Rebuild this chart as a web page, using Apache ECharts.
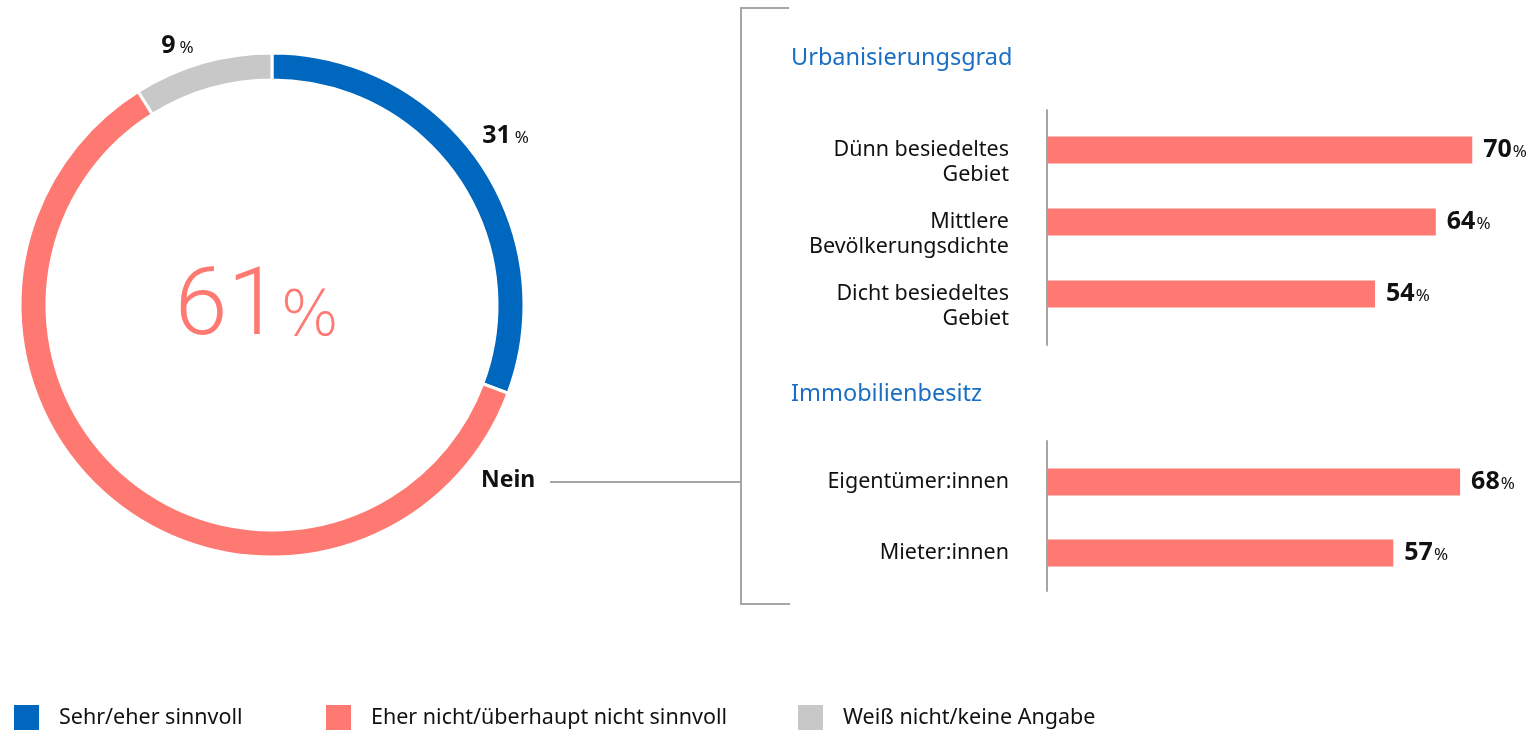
<!DOCTYPE html>
<html><head><meta charset="utf-8">
<script src="https://cdn.jsdelivr.net/npm/echarts@6/dist/echarts.min.js"></script>
<style>html,body{margin:0;padding:0;background:#fff}#chart{width:1533px;height:730px}</style>
</head><body><div id="chart"></div>
<script>
// Overall answer shares (donut)
const answerNames = ['Sehr/eher sinnvoll', 'Eher nicht/überhaupt nicht sinnvoll', 'Weiß nicht/keine Angabe'];
const answerValues = [31, 61, 9];
const answerColors = ['#0067BE', '#FF7973', '#C8C8C8'];

// "Nein" share broken down by group
const urbanTitle = 'Urbanisierungsgrad';
const urbanCategories = ['Dünn besiedeltes\nGebiet', 'Mittlere\nBevölkerungsdichte', 'Dicht besiedeltes\nGebiet'];
const urbanValues = [70, 64, 54];
const ownerTitle = 'Immobilienbesitz';
const ownerCategories = ['Eigentümer:innen', 'Mieter:innen'];
const ownerValues = [68, 57];

const FONT = 'Noto Sans';
const LINE = '#A6A6A6';
const INK = '#111111';
const TITLE_BLUE = '#1A6FC4';

const chart = echarts.init(document.getElementById('chart'), null, { renderer: 'canvas' });

// donut ring: the "Nein" slice carries the big centre figure
const pieData = answerNames.map((n, i) => ({
  name: n,
  value: answerValues[i],
  itemStyle: { color: answerColors[i] },
  label: i === 1 ? {
    show: true, position: 'center', offset: [-15, 5],
    formatter: '{big|{c}}{pct|%}'
  } : { show: false }
}));

// small outer percentage labels (placed via a transparent outer ring)
const outerLabelOffsets = { 0: [-3, -5], 2: [-15, 18] };
const outerLabelData = answerNames.map((n, i) => ({
  name: n,
  value: answerValues[i],
  label: i === 1 ? { show: false } : { show: true, offset: outerLabelOffsets[i] }
}));

const valueLabel = {
  show: true, position: 'right', distance: 11,
  formatter: '{v|{c}}{p|%}',
  rich: {
    v: { fontFamily: FONT, fontSize: 25, fontWeight: 'bold', color: INK },
    p: { fontFamily: FONT, fontSize: 17, color: INK, padding: [4, 0, 0, 1] }
  }
};

// two-line labels keep their first line level with the bar
const catLabel = {
  interval: 0, hideOverlap: false,
  fontFamily: FONT, fontSize: 21.5, color: INK, margin: 38,
  lineHeight: 25, align: 'right',
  formatter: (v) => v.indexOf('\n') >= 0 ? '\n' + v : v
};

const legendBase = {
  top: 703, padding: 0, icon: 'rect', itemWidth: 27, itemHeight: 27,
  selectedMode: false,
  textStyle: { fontFamily: FONT, fontSize: 21.5, color: INK, padding: [0, 0, 0, 14] }
};

const axisFrame = {
  type: 'value', min: 0, max: 1,
  axisLabel: { show: false }, axisTick: { show: false }, splitLine: { show: false },
  axisLine: { show: true, lineStyle: { color: LINE, width: 2 } }
};

chart.setOption({
  animation: false,
  backgroundColor: '#ffffff',
  title: [
    { text: urbanTitle, left: 786, top: 41, textStyle: { fontFamily: FONT, fontSize: 23.5, fontWeight: 'normal', color: TITLE_BLUE } },
    { text: ownerTitle, left: 786, top: 377, textStyle: { fontFamily: FONT, fontSize: 23.5, fontWeight: 'normal', color: TITLE_BLUE } }
  ],
  legend: [
    Object.assign({ left: 12, data: [answerNames[0]] }, legendBase),
    Object.assign({ left: 324, data: [answerNames[1]] }, legendBase),
    Object.assign({ left: 796, data: [answerNames[2]] }, legendBase)
  ],
  grid: [
    { left: 1047, top: 114, right: 0, height: 216 },
    { left: 1047, top: 446.5, right: 0, height: 142 },
    { left: 1047, top: 110, width: 10, height: 235 },
    { left: 1047, top: 441, width: 10, height: 150 }
  ],
  xAxis: [
    { gridIndex: 0, type: 'value', min: 0, max: 80, show: false },
    { gridIndex: 1, type: 'value', min: 0, max: 80, show: false },
    { gridIndex: 2, type: 'value', show: false },
    { gridIndex: 3, type: 'value', show: false }
  ],
  yAxis: [
    { gridIndex: 0, type: 'category', inverse: true, data: urbanCategories,
      axisLine: { show: false }, axisTick: { show: false }, axisLabel: catLabel },
    { gridIndex: 1, type: 'category', inverse: true, data: ownerCategories,
      axisLine: { show: false }, axisTick: { show: false }, axisLabel: catLabel },
    Object.assign({ gridIndex: 2 }, axisFrame),
    Object.assign({ gridIndex: 3 }, axisFrame)
  ],
  series: [
    {
      type: 'pie', name: 'Antworten', center: [272, 305], radius: [225, 252],
      startAngle: 90, clockwise: true, silent: true,
      itemStyle: { borderColor: '#ffffff', borderWidth: 3 },
      labelLine: { show: false },
      label: {
        rich: {
          big: { fontFamily: 'Roboto', fontWeight: 300, fontSize: 95, color: answerColors[1] },
          pct: { fontFamily: 'DejaVu Sans', fontWeight: 200, fontSize: 62, color: answerColors[1], padding: [18, 0, 0, 0] }
        }
      },
      data: pieData
    },
    {
      type: 'pie', name: 'Anteile', center: [272, 305], radius: [270, 300],
      startAngle: 90, clockwise: true, silent: true,
      itemStyle: { color: 'rgba(0,0,0,0)' },
      labelLine: { show: false },
      label: {
        position: 'inside', formatter: '{v|{c}}{p|%}',
        rich: {
          v: { fontFamily: FONT, fontSize: 25, fontWeight: 'bold', color: INK },
          p: { fontFamily: FONT, fontSize: 17, color: INK, padding: [4, 0, 0, 4] }
        }
      },
      data: outerLabelData
    },
    {
      type: 'bar', xAxisIndex: 0, yAxisIndex: 0, data: urbanValues, barWidth: 27,
      itemStyle: { color: answerColors[1] }, label: valueLabel, silent: true
    },
    {
      type: 'bar', xAxisIndex: 1, yAxisIndex: 1, data: ownerValues, barWidth: 27,
      itemStyle: { color: answerColors[1] }, label: valueLabel, silent: true
    }
  ],
  graphic: [
    { type: 'polyline', silent: true,
      shape: { points: [[789, 8], [741, 8], [741, 604], [790, 604]] },
      style: { stroke: LINE, lineWidth: 2, fill: null } },
    { type: 'line', silent: true,
      shape: { x1: 550, y1: 482, x2: 741, y2: 482 },
      style: { stroke: LINE, lineWidth: 2 } },
    { type: 'text', silent: true, x: 481, y: 480,
      style: { text: 'Nein', fontFamily: FONT, fontSize: 23, fontWeight: 'bold', fill: INK, verticalAlign: 'middle' } }
  ]
});
</script>
</body></html>
